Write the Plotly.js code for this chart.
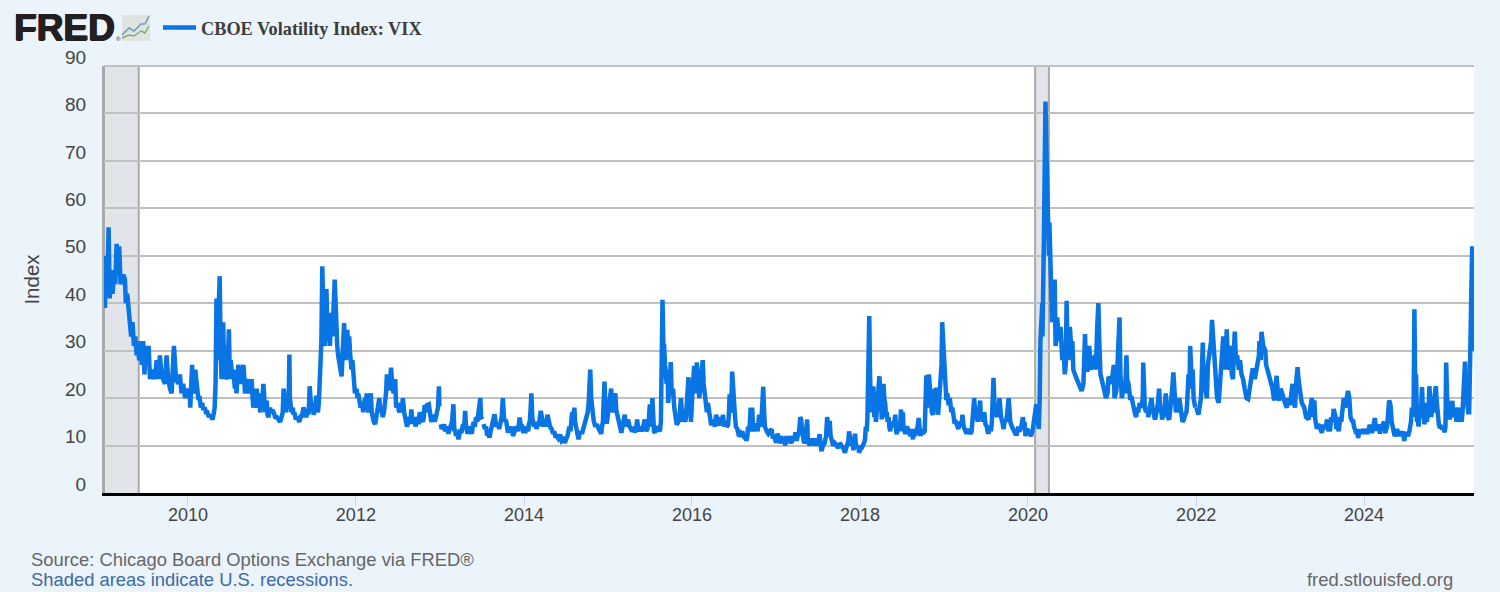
<!DOCTYPE html>
<html>
<head>
<meta charset="utf-8">
<script src="https://cdn.plot.ly/plotly-3.0.1.min.js"></script>
<style>html,body{margin:0;padding:0;background:#ebf3fb;}#chart{width:1500px;height:592px;}</style>
</head>
<body>
<div id="chart"></div>
<script>
// Each pair: [fraction of the year, VIX index value].
const vix2009=[[.012,39],[.024,50],[.04,43],[.056,56],[.071,41],[.087,47],[.103,42],[.119,46],[.135,44],[.151,52.5],[.167,46],[.183,52],[.198,44],[.214,45],[.23,46],[.25,45],[.262,40],[.278,42],[.294,38],[.31,36],[.325,33],[.341,36],[.357,31],[.373,33],[.389,29],[.405,31],[.421,28],[.437,32],[.452,27],[.468,32],[.484,25],[.5,31],[.516,28],[.532,31],[.548,24],[.567,26],[.587,25],[.607,24],[.627,28],[.647,24],[.667,29],[.687,25],[.706,24],[.726,23],[.746,29],[.766,24],[.786,22],[.806,21],[.833,31],[.857,24],[.885,23],[.905,25],[.925,21],[.944,23],[.968,20],[.992,22]];
const vix2010=[[.01,20],[.02,22],[.03,18],[.04,21],[.05,27],[.06,22],[.07,21],[.08,24],[.09,26],[.1,24],[.11,22],[.125,20],[.14,20],[.155,18],[.17,19],[.185,17.5],[.2,18],[.215,17],[.23,17],[.24,16],[.25,16],[.265,16.5],[.28,16],[.295,15.5],[.31,17],[.32,18],[.33,23],[.34,41],[.35,28],[.36,33],[.37,38],[.38,45.7],[.39,30],[.4,24],[.41,30],[.42,36],[.43,27],[.44,31],[.45,24],[.46,24.5],[.47,28],[.48,30],[.49,34.5],[.5,24],[.51,28],[.52,26],[.53,24],[.54,26],[.55,23],[.56,22],[.57,24],[.58,21],[.59,24],[.6,27],[.61,26],[.62,25],[.63,23],[.645,25],[.66,27],[.67,25],[.68,21],[.695,23],[.71,24],[.725,21],[.74,23],[.75,21],[.76,24],[.77,20],[.78,18],[.795,19.5],[.81,20],[.82,22],[.83,18],[.84,19],[.85,21],[.86,17],[.87,18],[.88,20],[.89,21],[.9,23],[.91,19],[.92,17],[.93,19],[.94,19],[.95,16.5],[.96,16],[.97,17.5],[.98,18],[.99,17]];
const vix2011=[[.01,17.5],[.02,17],[.04,16],[.06,16],[.08,15.5],[.1,15],[.115,16],[.13,17],[.14,22],[.15,20],[.16,19],[.17,17],[.18,19],[.19,21],[.2,20],[.21,29.2],[.215,20],[.22,18],[.235,17],[.25,18],[.26,16.5],[.27,17],[.285,15.5],[.3,16],[.315,15],[.33,15],[.345,16.5],[.36,16],[.37,17.5],[.38,18],[.395,17],[.41,16],[.425,17],[.44,17],[.45,22.5],[.46,19],[.47,18],[.48,19],[.49,17],[.5,16.5],[.515,18],[.53,20.5],[.54,18],[.55,17],[.56,19],[.57,24],[.58,25],[.59,32],[.6,47.8],[.61,34],[.62,32],[.63,31],[.64,37],[.65,43],[.66,35],[.67,32],[.68,37],[.69,31],[.7,34],[.71,38],[.72,33],[.73,36],[.74,41],[.75,45],[.76,37],[.77,35],[.78,31],[.79,29],[.81,27],[.83,24.6],[.845,30],[.86,35.8],[.87,31],[.88,28],[.89,31],[.9,34.4],[.91,29],[.92,33],[.93,30],[.94,28],[.95,26],[.96,28],[.97,24],[.98,23],[.99,21]];
const vix2012=[[.01,22],[.02,20],[.03,21],[.045,19],[.06,18],[.075,19],[.09,17],[.1,19],[.11,20],[.12,18],[.13,21],[.14,18],[.15,17],[.165,19],[.18,21],[.19,17],[.2,15.5],[.215,15],[.23,14.5],[.24,15.5],[.25,16],[.265,18],[.28,20],[.29,18],[.3,17],[.31,18],[.32,16],[.335,17],[.35,19],[.36,21],[.37,25],[.385,22],[.4,22],[.41,25],[.42,26.4],[.435,23],[.45,21],[.46,22],[.47,24],[.48,18],[.5,19],[.51,17.5],[.52,17],[.53,18],[.54,19],[.55,17],[.56,20],[.575,17],[.59,16],[.6,15],[.61,14],[.625,15],[.64,16],[.65,14.5],[.66,17.6],[.675,15],[.69,15],[.7,16],[.71,14],[.725,15],[.74,16],[.75,14.5],[.76,17],[.78,16],[.8,15],[.81,16],[.82,18.5],[.83,17],[.845,18.5],[.87,18.7],[.885,16],[.9,15],[.92,16.5],[.94,15],[.955,16],[.97,17],[.98,18],[.99,22.5],[.995,18.3]];
const vix2013a=[[.01,14.5],[.02,13.5],[.03,14],[.04,13.5],[.05,14.5],[.06,13],[.08,14],[.1,12.5],[.115,13.5],[.13,14],[.145,15],[.16,18.7],[.17,13],[.18,13.5],[.19,12],[.205,13],[.22,11.3],[.24,13],[.26,13],[.275,14.5],[.29,14],[.3,17.3],[.31,14],[.33,12.5],[.345,14],[.36,13],[.38,12.5],[.39,14],[.4,15],[.415,14],[.43,16],[.445,15],[.46,17],[.47,18],[.48,20],[.49,16],[.5,15.5]];
const vix2013b=[[.52,14.5],[.535,13.5],[.55,14],[.56,12.5],[.575,12.5],[.59,11.7],[.605,13],[.62,14],[.635,15],[.65,16.6],[.67,14],[.69,14.5],[.705,13.5],[.72,15],[.735,16],[.75,20],[.765,15],[.78,15.5],[.79,15],[.81,12.7],[.825,14],[.84,13],[.855,14],[.87,12],[.89,13.5],[.91,14],[.93,13],[.95,15.9],[.965,14],[.98,14],[.99,13]];
const vix2014=[[.02,13],[.035,14],[.05,13],[.06,14.5],[.07,15],[.08,18],[.09,21],[.1,16],[.12,14],[.135,15],[.15,13.5],[.165,14.5],[.18,14.5],[.2,17.3],[.215,15],[.23,14],[.245,15],[.26,14],[.28,16.5],[.295,14.5],[.31,14],[.33,13.5],[.345,12.5],[.36,13],[.375,12],[.39,12],[.41,11.5],[.43,12.3],[.45,11],[.47,11.3],[.49,10.6],[.505,11.5],[.52,12],[.54,14],[.555,13],[.57,16.5],[.58,17],[.59,16],[.6,18],[.61,15],[.62,14],[.635,12],[.65,11.3],[.66,12.5],[.67,13],[.69,12.5],[.71,14],[.73,15],[.75,16],[.76,17],[.77,19],[.78,22],[.79,26],[.8,20],[.81,18],[.82,16],[.83,15.2],[.85,14],[.87,14.5],[.89,13.5],[.905,13],[.92,12.5],[.93,14],[.94,15],[.95,19],[.96,23.5],[.975,15],[.99,15]];
const vix2015=[[.01,18],[.02,20],[.04,22],[.05,18],[.06,17],[.07,20],[.09,21],[.1,17.5],[.12,16],[.14,14],[.16,12.7],[.18,14.5],[.2,16.5],[.21,14],[.22,14.5],[.24,15.5],[.26,14],[.275,13],[.29,13],[.305,14],[.32,12.8],[.335,13.5],[.35,15.5],[.36,13.5],[.37,13],[.385,14],[.4,13],[.42,14],[.44,15.5],[.455,13],[.47,13.5],[.485,15],[.5,18.7],[.51,15.5],[.52,14],[.53,20],[.54,14.5],[.55,13],[.56,12.7],[.58,14],[.6,13.5],[.62,13],[.63,15],[.65,40.7],[.66,31],[.67,31],[.68,27],[.69,24],[.7,23],[.71,26],[.72,19],[.735,23],[.75,27.6],[.76,20.5],[.775,22],[.79,18],[.805,16],[.82,14.4],[.84,15],[.855,16.5],[.87,20],[.88,17],[.89,15],[.905,17],[.92,15],[.93,16],[.94,19],[.95,21],[.96,24.4],[.97,20],[.98,17],[.99,15]];
const vix2016=[[.01,22],[.02,25],[.03,26.8],[.04,23],[.05,21],[.06,27.5],[.07,24],[.08,22],[.09,20],[.1,22],[.11,24],[.12,26],[.13,28],[.14,23],[.155,21],[.17,19.5],[.18,17],[.19,19],[.21,16],[.23,14.3],[.245,15],[.26,15],[.275,14],[.29,16.5],[.31,15],[.33,14.3],[.34,15],[.35,16],[.36,14.5],[.37,16.5],[.385,14],[.4,15],[.415,14],[.43,14.3],[.44,16],[.45,20.8],[.46,17],[.47,18],[.48,25.6],[.49,22],[.5,20],[.51,17],[.525,14],[.54,13.5],[.555,12.5],[.57,12.7],[.585,11.8],[.6,13],[.615,12],[.63,11.5],[.64,12],[.65,11],[.66,12],[.67,14],[.685,13],[.7,18],[.71,15],[.72,18],[.73,13],[.75,14.5],[.77,14],[.785,13],[.8,16.5],[.81,15],[.82,14],[.835,17],[.85,22.4],[.86,17],[.87,14],[.89,13],[.91,12.5],[.93,13],[.95,13.5],[.965,11.5],[.98,12]];
const vix2017=[[0,10.6],[.015,12.5],[.03,12],[.04,10.5],[.05,11],[.065,12],[.08,10.5],[.095,11.5],[.11,10],[.125,12],[.14,10.5],[.155,12],[.17,11],[.185,10.5],[.2,12],[.215,11],[.23,12.8],[.245,11],[.26,12],[.275,13],[.29,16],[.3,15.5],[.31,13],[.32,11.5],[.335,10.5],[.35,11],[.36,13],[.37,15.5],[.38,11],[.39,10.5],[.4,10],[.42,11.5],[.44,10],[.45,11],[.46,11.5],[.475,10],[.49,10.5],[.505,11],[.52,12.4],[.53,10],[.54,8.8],[.56,10],[.58,10.5],[.595,12],[.61,16],[.62,14],[.63,15],[.64,15.2],[.65,12],[.66,11],[.68,10],[.7,10.5],[.72,10],[.74,9.5],[.76,10.5],[.78,10],[.8,9.5],[.82,8.5],[.835,9.5],[.85,10.5],[.86,11],[.87,13],[.885,11],[.9,10],[.91,11],[.92,9],[.93,10],[.94,12.5],[.95,10.5],[.96,9.5],[.975,10],[.99,8.5]];
const vix2018=[[.01,9.5],[.02,9.5],[.035,10],[.05,11],[.06,11],[.07,14],[.08,13],[.09,16],[.1,30],[.11,37.3],[.12,26],[.13,17],[.14,19],[.15,22],[.16,22],[.17,16],[.18,17],[.19,15],[.2,18],[.21,20],[.22,22],[.23,24.6],[.24,22],[.25,20],[.26,15.5],[.27,19],[.28,23],[.29,20],[.3,19],[.31,16],[.32,17],[.33,15],[.34,16],[.35,14],[.36,13],[.37,14.5],[.38,15],[.4,14],[.42,16.5],[.43,13],[.44,12.4],[.455,14],[.47,13],[.48,15],[.49,17.6],[.5,14],[.51,17],[.52,13.5],[.54,12.5],[.56,14],[.58,13],[.6,12],[.615,13.5],[.63,11.3],[.64,13.5],[.655,12],[.67,13],[.685,14],[.7,15.8],[.71,13],[.72,12],[.735,13.5],[.75,12.5],[.77,13],[.78,17],[.79,24.8],[.8,20],[.81,18],[.82,25],[.83,22],[.84,20],[.855,17],[.87,16.5],[.88,19],[.89,22],[.9,18],[.91,22.2],[.92,19],[.93,16.5],[.94,19],[.95,21],[.96,23],[.97,27],[.98,36]];
const vix2019=[[0,30],[.01,28],[.02,24],[.03,19.6],[.04,21],[.055,18.5],[.07,20],[.08,18],[.09,17],[.1,18],[.11,16.5],[.125,15],[.14,15],[.155,14.5],[.17,13.5],[.185,14.5],[.2,15],[.21,14],[.22,16.5],[.235,14],[.25,13.5],[.26,13],[.27,12.5],[.285,13.5],[.3,13],[.315,12.5],[.33,13],[.34,15],[.35,18],[.36,20],[.37,17],[.38,18],[.39,16.5],[.4,15],[.41,17],[.42,17.5],[.43,19.5],[.44,16],[.45,16.5],[.46,15],[.47,16],[.48,17],[.495,14.5],[.51,14],[.52,13],[.53,12.5],[.545,14],[.56,13],[.57,15],[.58,18],[.59,24.3],[.6,19],[.61,18],[.62,16],[.63,16],[.64,19],[.65,17.5],[.66,20],[.67,17],[.68,16],[.695,15],[.71,13.5],[.725,15.5],[.74,15],[.755,17],[.77,20],[.78,18],[.79,15],[.81,14],[.83,13],[.85,12.5],[.87,12.5],[.885,14],[.9,13],[.92,14],[.94,16],[.95,14],[.96,15],[.97,12],[.99,13.5]];
const vix2020=[[.02,12.8],[.04,12],[.06,13.5],[.08,17],[.1,18.7],[.12,15],[.13,13.5],[.14,20],[.15,32],[.17,40],[.175,33],[.19,53],[.2,75],[.21,82.5],[.22,72],[.23,61],[.24,65],[.25,50],[.255,57],[.27,45],[.28,42],[.29,36],[.3,38],[.32,45],[.33,31],[.34,33],[.35,37],[.37,32],[.39,35],[.4,29],[.41,28],[.425,30],[.44,25],[.45,27],[.46,40.5],[.47,32],[.48,28],[.5,35],[.52,30],[.53,32],[.54,26],[.56,25],[.58,24],[.6,23],[.62,22],[.64,21.5],[.66,23],[.68,33.5],[.69,26],[.71,26],[.72,29],[.73,31],[.75,26],[.76,27],[.78,28],[.8,29],[.81,26],[.825,35],[.84,40],[.85,32],[.865,25],[.89,23],[.93,20],[.95,21],[.96,24.5],[.98,24],[.995,23]];
const vix2021=[[.02,27],[.03,20],[.05,21.5],[.06,24],[.075,30],[.09,37],[.1,25],[.115,20],[.135,22],[.155,21],[.17,29],[.18,24],[.195,23],[.215,20],[.235,20],[.25,18],[.27,17],[.285,16],[.3,18],[.31,17],[.33,19],[.35,18],[.365,20],[.37,27.5],[.38,20],[.39,18],[.405,17],[.42,18],[.43,16],[.45,18],[.47,20],[.48,18],[.49,17],[.51,15.5],[.52,16],[.53,17],[.545,19],[.56,22],[.575,17],[.585,18],[.595,15.5],[.61,17],[.625,18],[.64,21],[.65,18],[.66,16],[.68,15.5],[.69,17],[.7,18],[.715,22],[.73,25.4],[.74,21],[.75,20],[.76,17],[.77,18],[.785,17],[.8,20],[.815,17],[.83,16],[.84,15],[.855,15.5],[.87,16.5],[.885,17],[.895,19],[.91,25],[.92,22],[.93,31],[.945,24],[.96,26],[.97,20],[.99,18]];
const vix2022=[[.005,18],[.03,16.5],[.06,20],[.07,24],[.08,31.7],[.09,24],[.11,21],[.13,20],[.14,27],[.15,28],[.16,30],[.17,30],[.18,32],[.19,36.5],[.21,32],[.23,24],[.25,20],[.27,19],[.28,22],[.29,24.7],[.31,31],[.325,33],[.34,28],[.35,26],[.365,34.5],[.38,28],[.4,26],[.41,31],[.425,25],[.44,24],[.45,30],[.46,34],[.475,28],[.49,29],[.51,26],[.525,28],[.54,25],[.56,24],[.58,22],[.6,20],[.62,19.8],[.64,22],[.66,25],[.675,26.3],[.7,24],[.73,27],[.75,29],[.755,32],[.77,28],[.78,34],[.8,31],[.825,30],[.835,27],[.85,26],[.875,24.5],[.89,24],[.91,22],[.93,19.5],[.95,23],[.96,24.7],[.98,20],[.99,19.5]];
const vix2023=[[.01,22],[.03,20.5],[.05,19],[.06,19],[.08,18],[.1,20],[.12,18.5],[.14,21],[.15,23],[.17,19],[.18,18],[.195,24],[.21,26.5],[.22,24],[.24,21],[.26,19],[.29,18],[.31,16],[.34,15.5],[.36,18],[.38,20],[.4,16],[.41,19.5],[.42,15.5],[.43,14],[.44,13.5],[.455,14.5],[.47,13.8],[.485,13],[.5,12.7],[.51,14],[.52,14],[.54,13.5],[.56,15.5],[.575,13],[.585,14],[.595,13],[.61,16],[.625,15],[.64,17.7],[.66,16],[.67,13.5],[.685,14],[.7,13],[.72,16],[.73,15],[.74,17],[.76,20],[.775,18],[.79,19.5],[.81,21.5],[.825,20],[.84,16],[.86,15],[.87,15.5],[.88,14],[.895,13],[.91,12.5],[.92,13.5],[.93,11.6],[.945,13],[.96,13],[.975,12.5],[.99,13.5]];
const vix2024=[[.01,12.5],[.02,13.5],[.035,12.5],[.05,13],[.065,14],[.08,14],[.09,13],[.1,13],[.115,14.5],[.13,15.8],[.145,13.5],[.16,13.5],[.175,14.5],[.19,12.5],[.2,14],[.21,13.8],[.225,14.5],[.24,15],[.25,13],[.26,13],[.275,14],[.29,16],[.3,19.5],[.31,19],[.32,18],[.33,15],[.34,14],[.35,13.5],[.365,12],[.38,12.5],[.395,13.5],[.41,12],[.425,13],[.44,12],[.46,13],[.48,11],[.495,12.5],[.51,12.5],[.525,12],[.54,13],[.55,14],[.56,15],[.57,18],[.58,16],[.59,16],[.6,38.7],[.61,24],[.62,25],[.63,15],[.64,15.5],[.65,14],[.66,17],[.675,16],[.69,22.3],[.7,18],[.71,17],[.72,14.5],[.73,15.5],[.74,19],[.75,15],[.76,16.5],[.77,18],[.78,22.5],[.79,20],[.8,16],[.81,18],[.825,17],[.84,20],[.855,22.5],[.865,20],[.875,16],[.89,14.5],[.9,14],[.915,14],[.93,13.5],[.945,14],[.96,12.8],[.97,14],[.98,27.5],[.99,20]];
const vix2025=[[.01,17],[.02,15.5],[.03,17],[.04,18],[.05,19.4],[.06,17],[.07,16],[.08,18],[.09,16],[.1,15],[.11,18],[.12,17],[.13,16],[.14,15],[.15,18],[.16,15],[.17,17],[.18,21],[.19,24],[.2,27.7],[.21,22],[.225,19],[.24,17],[.25,17],[.26,25],[.27,30],[.285,52],[.3,30]];

const seriesName = "CBOE Volatility Index: VIX";
const recessions = [["2009-01-01","2009-06-01"],["2020-02-01","2020-04-01"]];
const yTicks = [0,10,20,30,40,50,60,70,80,90];
const xTicks = [2010,2012,2014,2016,2018,2020,2022,2024];

// Blocks with a break in the line between them
const blocks = [
 [2009,vix2009],[2010,vix2010],[2011,vix2011],[2012,vix2012],null,
 [2013,vix2013a],null,[2013,vix2013b],[2014,vix2014],[2015,vix2015],[2016,vix2016],
 [2017,vix2017],[2018,vix2018],[2019,vix2019],[2020,vix2020],[2021,vix2021],null,
 [2022,vix2022],[2023,vix2023],[2024,vix2024],[2025,vix2025]
];
function toDate(y,f){return new Date(Date.UTC(y,0,1)+f*365.25*864e5).toISOString().slice(0,10);}
const xs=[],ys=[];
blocks.forEach(b=>{
  if(!b){xs.push(xs[xs.length-1]);ys.push(null);return;}
  b[1].forEach(p=>{xs.push(toDate(b[0],p[0]));ys.push(p[1]);});
});

const W=1500,H=592,L=104,R=1474,T=66,B=493;
const px=x=>(x-L)/(R-L), py=y=>(B-y)/(B-T);
const grey='#444444', shade='#e1e5ea', edge='#a9a9a9';

const shapes=[];
recessions.forEach(r=>{
  shapes.push({type:'rect',layer:'below',xref:'x',yref:'paper',x0:r[0],x1:r[1],y0:0,y1:1,fillcolor:shade,line:{width:0}});
  r.forEach(d=>shapes.push({type:'line',layer:'between',xref:'x',yref:'paper',x0:d,x1:d,y0:0,y1:1,line:{color:edge,width:2}}));
});
// top edge of the plot carries the 90 gridline
shapes.push({type:'line',layer:'between',xref:'paper',yref:'paper',x0:0,x1:1,y0:1,y1:1,line:{color:'#c0c0c0',width:2}});
// FRED logo icon
function logoPath(pts){return 'M'+pts.map(p=>px(p[0])+','+py(p[1])).join('L');}
shapes.push({type:'rect',layer:'above',xref:'paper',yref:'paper',x0:px(122),x1:px(150),y0:py(41),y1:py(15),fillcolor:'#dfe3e2',line:{width:0}});
shapes.push({type:'path',layer:'above',xref:'paper',yref:'paper',path:logoPath([[122,35],[129,28],[134,31],[141,24],[145,24],[149,16]]),line:{color:'#6f9dbd',width:1.5}});
shapes.push({type:'path',layer:'above',xref:'paper',yref:'paper',path:logoPath([[122,38],[129,35],[134,36],[141,31],[145,33],[149,26]]),line:{color:'#7fae6a',width:1.5}});

const annots=[
 {text:'FRED',x:px(13.5),y:py(28),xanchor:'left',yanchor:'middle',font:{family:'Liberation Sans',size:37,color:'#231f20',weight:700,shadow:'1px 0 0 #231f20, -0.5px 0 0 #231f20, 0 0.5px 0 #231f20, 0 -0.5px 0 #231f20'}},
 {text:'®',x:px(118),y:py(39),xanchor:'center',yanchor:'middle',font:{family:'Liberation Sans',size:6,color:'#231f20'}},
 {text:'Source: Chicago Board Options Exchange via FRED®',x:px(31),y:py(559),xanchor:'left',yanchor:'middle',font:{family:'Liberation Sans',size:18.4,color:'#666666'}},
 {text:'Shaded areas indicate U.S. recessions.',x:px(31),y:py(579),xanchor:'left',yanchor:'middle',font:{family:'Liberation Sans',size:18.4,color:'#3d6aa5'}},
 {text:'fred.stlouisfed.org',x:px(1453),y:py(579),xanchor:'right',yanchor:'middle',font:{family:'Liberation Sans',size:18.4,color:'#666666'}}
].map(a=>Object.assign({xref:'paper',yref:'paper',showarrow:false,borderpad:0,borderwidth:0},a));

const trace={type:'scatter',mode:'lines',name:seriesName,x:xs,y:ys,connectgaps:false,
  line:{color:'#0974e4',width:4.5,shape:'linear'},showlegend:true,hoverinfo:'skip'};

const layout={
  width:W,height:H,autosize:false,
  paper_bgcolor:'#ebf3fb',plot_bgcolor:'#ffffff',
  margin:{l:L,r:W-R,t:T,b:H-B,pad:0,autoexpand:false},
  font:{family:'Liberation Sans',color:grey,size:17},
  showlegend:true,
  legend:{x:px(158),y:py(9),xanchor:'left',yanchor:'top',bgcolor:'rgba(0,0,0,0)',borderwidth:0,
    font:{family:'Liberation Serif',size:18.3,color:'#3c3c3c',weight:700},itemwidth:33},
  xaxis:{type:'date',range:['2009-01-01','2025-04-23'],
    tickmode:'array',tickvals:xTicks.map(y=>y+'-01-01'),ticktext:xTicks.map(String),
    showgrid:false,zeroline:false,showline:true,linecolor:'#000000',linewidth:3,
    ticks:'outside',ticklen:10,tickwidth:1,tickcolor:'#c8d6ee',ticklabelstandoff:-7,tickfont:{size:18,color:grey}},
  yaxis:{range:[0,90],tickmode:'array',tickvals:yTicks,ticktext:yTicks.map(String),
    showgrid:true,gridcolor:'#c0c0c0',gridwidth:2,zeroline:false,
    showline:true,linecolor:edge,linewidth:2,ticks:'',ticklabelshift:-9,ticklabelstandoff:12,
    tickfont:{size:19,color:grey},
    title:{text:'Index',standoff:20,font:{size:20.5,color:grey}},automargin:false},
  shapes:shapes,annotations:annots
};
Plotly.newPlot('chart',[trace],layout,{displayModeBar:false,staticPlot:true});
</script>
</body>
</html>
